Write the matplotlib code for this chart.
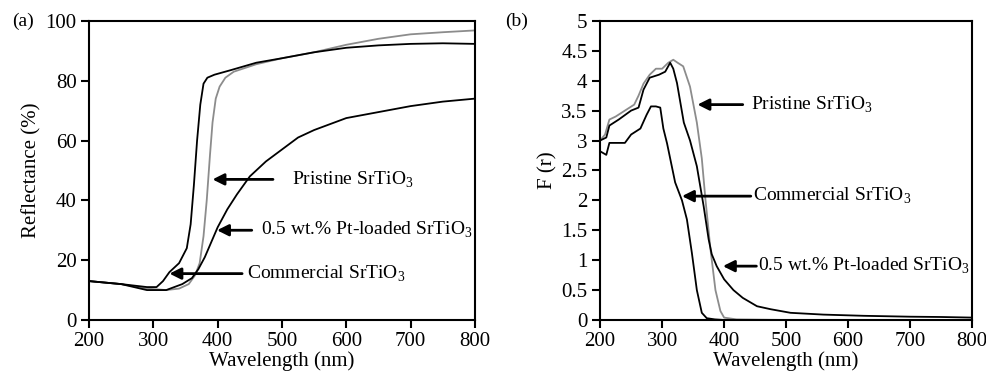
import numpy as np
import matplotlib
matplotlib.use("Agg")
import matplotlib.pyplot as plt

plt.rcParams['font.family'] = ['Liberation Serif', 'DejaVu Serif']
plt.rcParams['mathtext.fontset'] = 'custom'
plt.rcParams['mathtext.rm'] = 'Liberation Serif'

# ---- panel (a): reflectance ----
wl_a_com = [200, 250, 290, 305, 315, 325, 340, 352, 358, 363, 368, 373, 378, 384, 395, 420, 460, 500, 550, 600, 650, 700, 750, 800]
r_com = [13, 12, 11, 11, 13, 16, 19, 24, 32, 45, 60, 72, 79, 81, 82, 83.5, 86, 87.5, 89.5, 91, 91.8, 92.3, 92.5, 92.3]

wl_a_pri = [200, 250, 290, 320, 340, 355, 365, 372, 378, 383, 388, 392, 397, 403, 412, 425, 460, 500, 550, 600, 650, 700, 750, 800]
r_pri = [13, 12, 10.5, 10, 10.5, 12, 15, 19, 28, 40, 55, 66, 74, 78, 81, 83, 85.5, 87.5, 89.5, 92, 94, 95.5, 96.2, 96.8]

wl_a_pt = [200, 250, 290, 320, 345, 360, 370, 380, 390, 400, 415, 430, 450, 475, 500, 525, 550, 600, 650, 700, 750, 800]
r_pt = [13, 12, 10, 10, 12, 14, 17, 21, 26, 31, 37, 42, 48, 53, 57, 61, 63.5, 67.5, 69.5, 71.5, 73, 74]

# ---- panel (b): Kubelka-Munk ----
wl_b_pri = [200, 208, 215, 225, 240, 255, 262, 270, 280, 290, 300, 310, 318, 325, 334, 345, 356, 364, 370, 378, 386, 394, 400, 420, 500, 800]
f_pri = [3.0, 3.1, 3.35, 3.4, 3.5, 3.6, 3.75, 3.95, 4.1, 4.2, 4.2, 4.3, 4.35, 4.3, 4.24, 3.9, 3.3, 2.7, 2.0, 1.18, 0.5, 0.15, 0.04, 0.01, 0.0, 0.0]

wl_b_pt = [200, 210, 215, 230, 250, 262, 270, 280, 295, 305, 313, 318, 324, 335, 345, 356, 367, 375, 380, 388, 400, 415, 430, 453, 475, 507, 560, 625, 700, 750, 800]
f_pt = [3.0, 3.05, 3.25, 3.35, 3.5, 3.55, 3.85, 4.05, 4.1, 4.15, 4.3, 4.2, 3.96, 3.3, 3.0, 2.57, 1.9, 1.35, 1.1, 0.9, 0.68, 0.5, 0.37, 0.23, 0.18, 0.12, 0.09, 0.07, 0.055, 0.05, 0.04]

wl_b_com = [200, 210, 215, 240, 250, 265, 275, 282, 290, 297, 302, 308, 313, 321, 332, 340, 348, 356, 364, 372, 385, 400, 800]
f_com = [2.82, 2.76, 2.96, 2.96, 3.1, 3.2, 3.43, 3.57, 3.57, 3.55, 3.2, 2.95, 2.7, 2.3, 2.0, 1.68, 1.12, 0.5, 0.12, 0.03, 0.01, 0.0, 0.0]

grey = '#8c8c8c'
fs = 15

fig = plt.figure(figsize=(9.87, 3.84), dpi=100)
ax1 = fig.add_axes([0.0902, 0.1667, 0.391, 0.779])
ax2 = fig.add_axes([0.608, 0.1667, 0.377, 0.779])

ax1.plot(wl_a_pri, r_pri, color=grey, lw=1.3)
ax1.plot(wl_a_com, r_com, color='k', lw=1.3)
ax1.plot(wl_a_pt, r_pt, color='k', lw=1.3)

ax2.plot(wl_b_pri, f_pri, color=grey, lw=1.3)
ax2.plot(wl_b_pt, f_pt, color='k', lw=1.3)
ax2.plot(wl_b_com, f_com, color='k', lw=1.3)

ax1.set_xlim(200, 800)
ax1.set_ylim(0, 100)
ax1.set_yticks(np.arange(0, 101, 20))
ax2.set_xlim(200, 800)
ax2.set_ylim(0, 5)
ax2.set_yticks(np.arange(0, 5.01, 0.5))
ax2.set_yticklabels(['0', '0.5', '1', '1.5', '2', '2.5', '3', '3.5', '4', '4.5', '5'])

for ax in (ax1, ax2):
    ax.set_xticks(np.arange(200, 801, 100))
    ax.tick_params(direction='out', length=6, width=1.5, labelsize=fs, pad=3)
    for s in ax.spines.values():
        s.set_linewidth(1.5)
    ax.set_xlabel('Wavelength (nm)', fontsize=fs, labelpad=0)

ax1.set_ylabel('Reflectance (%)', fontsize=fs, labelpad=3)
ax2.set_ylabel('F (r)', fontsize=fs, labelpad=3)

fig.text(0.012, 0.945, '(a)', fontsize=14, va='center')
fig.text(0.512, 0.945, '(b)', fontsize=14, va='center')

arrow = dict(arrowstyle='-|>', color='k', lw=2, mutation_scale=17, shrinkA=0, shrinkB=0)
ann = 14

def label(ax, text, tip, tail, tx):
    ax.annotate('', xy=tip, xytext=tail, arrowprops=arrow)
    ax.text(tx, tail[1], text, fontsize=ann, va='center', ha='left')

label(ax1, 'Pristine SrTiO$_3$', (392, 47), (486, 47), 515)
label(ax1, '0.5 wt.% Pt-loaded SrTiO$_3$', (399, 30), (453, 30), 467)
label(ax1, 'Commercial SrTiO$_3$', (325, 15.5), (438, 15.5), 446)

label(ax2, 'Pristine SrTiO$_3$', (357, 3.6), (430, 3.6), 444)
label(ax2, 'Commercial SrTiO$_3$', (332, 2.07), (443, 2.07), 447)
label(ax2, '0.5 wt.% Pt-loaded SrTiO$_3$', (398, 0.9), (452, 0.9), 454)

fig.savefig('out.png', dpi=100)
